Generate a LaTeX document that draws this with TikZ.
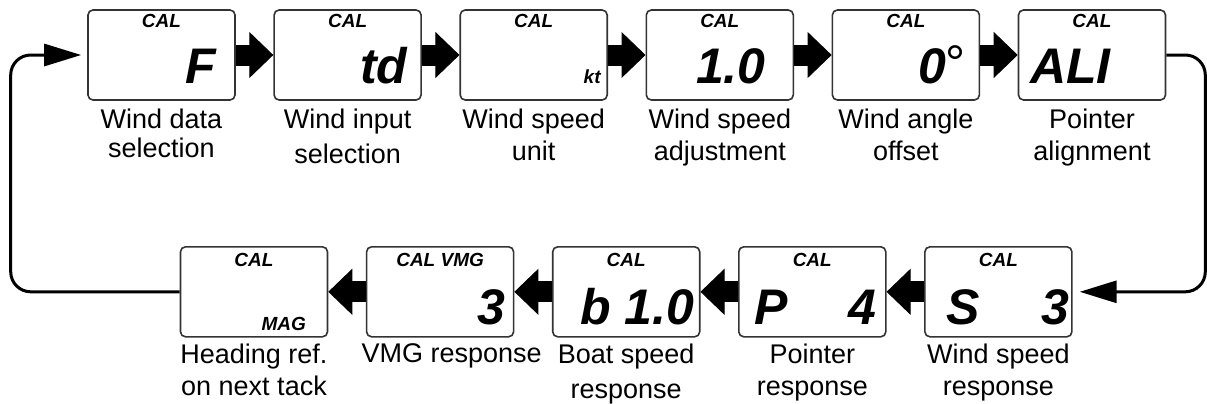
\documentclass[tikz,border=0pt]{standalone}
\usepackage{fontspec}
\setmainfont{Liberation Sans}
\usetikzlibrary{arrows.meta,positioning}

\begin{document}
\begin{tikzpicture}[
	disp/.style={draw=black!80,line width=0.8pt,rounded corners=2.5pt,fill=white,minimum width=73.5pt,minimum height=45pt,inner sep=0pt},
	caltxt/.style={anchor=base,inner sep=0pt,font=\fontsize{9.5}{10}\selectfont\bfseries\itshape},
	bigtxt/.style={inner sep=0pt,font=\fontsize{25}{25}\selectfont\bfseries\itshape},
	desc/.style={inner sep=0pt,align=center,font=\fontsize{13.5}{16}\selectfont},
	fat/.style={line width=10.5pt,-{Triangle[length=12pt,width=23pt,line width=0.5pt]}},
	backline/.style={line width=1.5pt,rounded corners=10pt,-{Triangle[length=18.5pt,width=11pt]}},
	node distance=18.75pt
	]
	\useasboundingbox (0,0) rectangle (603.5pt,-201.5pt);
	% top row
	\node[disp] (wdata) at (80.75pt,-27.5pt) {};
	\node[disp] (winput) [right=of wdata] {};
	\node[disp] (wunit) [right=of winput] {};
	\node[disp] (wadj) [right=of wunit] {};
	\node[disp] (woff) [right=of wadj] {};
	\node[disp] (ali) [right=of woff] {};
	\foreach \b in {wdata,winput,wunit,wadj,woff,ali}
		\node[caltxt] (\b-cal) at ([yshift=-9pt]\b.north) {CAL};
	\node[bigtxt,anchor=base east] (wdata-val) at ([shift={(-9.5pt,8.5pt)}]wdata.south east) {F};
	\node[bigtxt,anchor=base east] (winput-val) at ([shift={(-7pt,8.5pt)}]winput.south east) {td};
	\node[caltxt,anchor=base east] (wunit-val) at ([shift={(-3.5pt,8.5pt)}]wunit.south east) {kt};
	\node[bigtxt,anchor=base east] (wadj-val) at ([shift={(-14pt,8.5pt)}]wadj.south east) {1.0};
	\node[bigtxt,anchor=base east] (woff-val) at ([shift={(-7pt,8.5pt)}]woff.south east) {0\raisebox{1.5pt}{\mdseries\upshape\fontsize{25}{25}\selectfont °}};
	\node[bigtxt,anchor=base west] (ali-val) at ([shift={(6pt,8.5pt)}]ali.south west) {ALI};
	\node[desc,below=4pt of wdata] (wdata-txt) {Wind data\\[-1.5pt]selection};
	\node[desc,below=4pt of winput] (winput-txt) {Wind input\\[1.5pt]selection};
	\node[desc,below=4pt of wunit] (wunit-txt) {Wind speed\\unit};
	\node[desc,below=4pt of wadj] (wadj-txt) {Wind speed\\adjustment};
	\node[desc,below=4pt of woff] (woff-txt) {Wind angle\\offset};
	\node[desc,below=4pt of ali] (ali-txt) {Pointer\\alignment};
	% bottom row
	\node[disp] (hdg) at (127pt,-145.9pt) {};
	\node[disp] (vmg) [right=of hdg] {};
	\node[disp] (bsp) [right=of vmg] {};
	\node[disp] (ptr) [right=of bsp] {};
	\node[disp] (wsresp) [right=of ptr] {};
	\foreach \b in {hdg,bsp,ptr,wsresp}
		\node[caltxt] (\b-cal) at ([yshift=-10pt]\b.north) {CAL};
	\node[caltxt] (vmg-cal) at ([yshift=-10pt]vmg.north) {CAL VMG};
	\node[caltxt,anchor=base east] (hdg-val) at ([shift={(-11pt,3.5pt)}]hdg.south east) {MAG};
	\node[bigtxt,anchor=base east] (vmg-val) at ([shift={(-4.5pt,6.5pt)}]vmg.south east) {3};
	\node[bigtxt,anchor=base east] (bsp-val) at ([shift={(-3pt,6.5pt)}]bsp.south east) {b 1.0};
	\node[bigtxt,anchor=base west] (ptr-l) at ([shift={(8pt,6.5pt)}]ptr.south west) {P};
	\node[bigtxt,anchor=base east] (ptr-r) at ([shift={(-5pt,6.5pt)}]ptr.south east) {4};
	\node[bigtxt,anchor=base west] (wsresp-l) at ([shift={(11pt,6.5pt)}]wsresp.south west) {S};
	\node[bigtxt,anchor=base east] (wsresp-r) at ([shift={(-1.5pt,6.5pt)}]wsresp.south east) {3};
	\node[desc,below=3pt of hdg] (hdg-txt) {Heading ref.\\on next tack};
	\node[desc,below=3pt of vmg,xshift=5.75pt] (vmg-txt) {VMG response};
	\node[desc,below=3pt of bsp] (bsp-txt) {Boat speed\\[1.5pt]response};
	\node[desc,below=3pt of ptr] (ptr-txt) {Pointer\\response};
	\node[desc,below=3pt of wsresp] (wsresp-txt) {Wind speed\\response};
	% arrows
	\draw[fat] (wdata) -- (winput);
	\draw[fat] (winput) -- (wunit);
	\draw[fat] (wunit) -- (wadj);
	\draw[fat] (wadj) -- (woff);
	\draw[fat] (woff) -- (ali);
	\draw[fat] (wsresp) -- (ptr);
	\draw[fat] (ptr) -- (bsp);
	\draw[fat] (bsp) -- (vmg);
	\draw[fat] (vmg) -- (hdg);
	\coordinate (rturn) at ([xshift=19.5pt]ali.east);
	\coordinate (lturn) at ([xshift=-84.5pt]hdg.west);
	\draw[backline,shorten >=3.5pt] (ali.east) -- (rturn) |- (wsresp.east);
	\draw[backline,shorten >=3pt] (hdg.west) -- (lturn) |- (wdata.west);
\end{tikzpicture}
\end{document}
